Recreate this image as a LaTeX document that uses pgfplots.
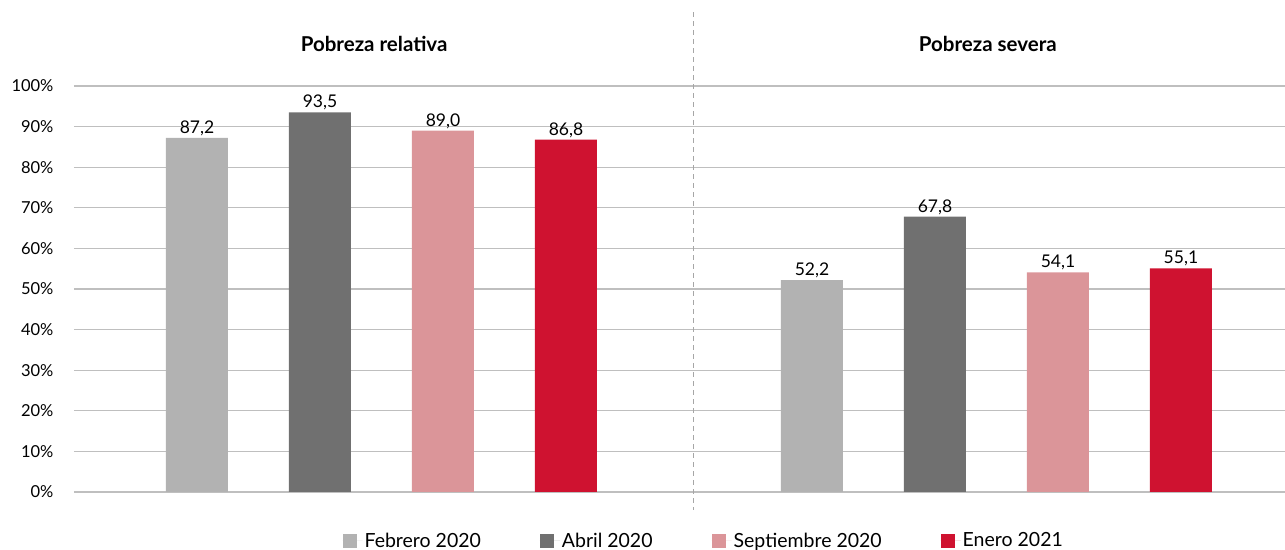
\documentclass[border=0pt]{standalone}
\usepackage{fontspec}
\setmainfont{Lato}
\usepackage{pgfplots}
\pgfplotsset{compat=1.18}
\usetikzlibrary{calc}
\definecolor{feb}{HTML}{B2B2B2}
\definecolor{abr}{HTML}{707070}
\definecolor{sep}{HTML}{DB9599}
\definecolor{ene}{HTML}{CF1230}
\definecolor{gridc}{HTML}{BFBFBF}
\begin{document}
\begin{tikzpicture}
\begin{axis}[
  scale only axis, width=1211pt, height=406pt,
  xmin=0, xmax=9.846, ymin=0, ymax=100,
  ybar, bar width=62pt, bar shift=0pt,
  axis x line=none, axis y line*=left, y axis line style={draw=none},
  ytick={0,10,...,100}, major tick length=0pt,
  yticklabel={\pgfmathprintnumber{\tick}\%},
  /pgf/number format/assume math mode=true,
  ticklabel style={font=\fontsize{16.5}{19}\selectfont},
  yticklabel style={xshift=-17pt},
  ymajorgrids, grid style={gridc, line width=1.2pt},
  clip=false,
  nodes near coords,
  nodes near coords style={font=\fontsize{17.5}{20}\selectfont, text=black, inner sep=2pt,
    /pgf/number format/.cd, fixed, fixed zerofill, precision=1, use comma, assume math mode=true},
  legend columns=4,
  legend style={draw=none, at={(0.52,-0.12)}, anchor=center,
    font=\fontsize{19.5}{22}\selectfont,
    /tikz/every even column/.append style={column sep=57pt}},
  legend image code/.code={\fill[#1, draw=none] (0pt,-7pt) rectangle (14pt,7pt); \path (0pt,0pt) -- (20pt,0pt);},
]
\addplot[fill=feb, draw=none] coordinates {(1,87.2) (6,52.2)};
\addlegendentry{Febrero 2020}
\addplot[fill=abr, draw=none] coordinates {(2,93.5) (7,67.8)};
\addlegendentry{Abril 2020}
\addplot[fill=sep, draw=none] coordinates {(3,89.0) (8,54.1)};
\addlegendentry{Septiembre 2020}
\addplot[fill=ene, draw=none] coordinates {(4,86.8) (9,55.1)};
\addlegendentry{Enero 2021}
\draw[gray!70, line width=1pt, dash pattern=on 5pt off 4pt] (axis cs:5.04,118.2) -- (axis cs:5.04,-4.4);
\node[font=\fontsize{20.5}{24}\selectfont\bfseries] at (axis cs:2.44,110.3) {Pobreza relativa};
\node[font=\fontsize{20.5}{24}\selectfont\bfseries] at (axis cs:7.43,110.3) {Pobreza severa};
\coordinate (A) at (rel axis cs:0,0);
\coordinate (B) at (rel axis cs:1,1);
\end{axis}
\pgfresetboundingbox
\path[use as bounding box] ($(A)+(-74pt,-58pt)$) rectangle ($(B)+(0pt,86pt)$);
\end{tikzpicture}
\end{document}
